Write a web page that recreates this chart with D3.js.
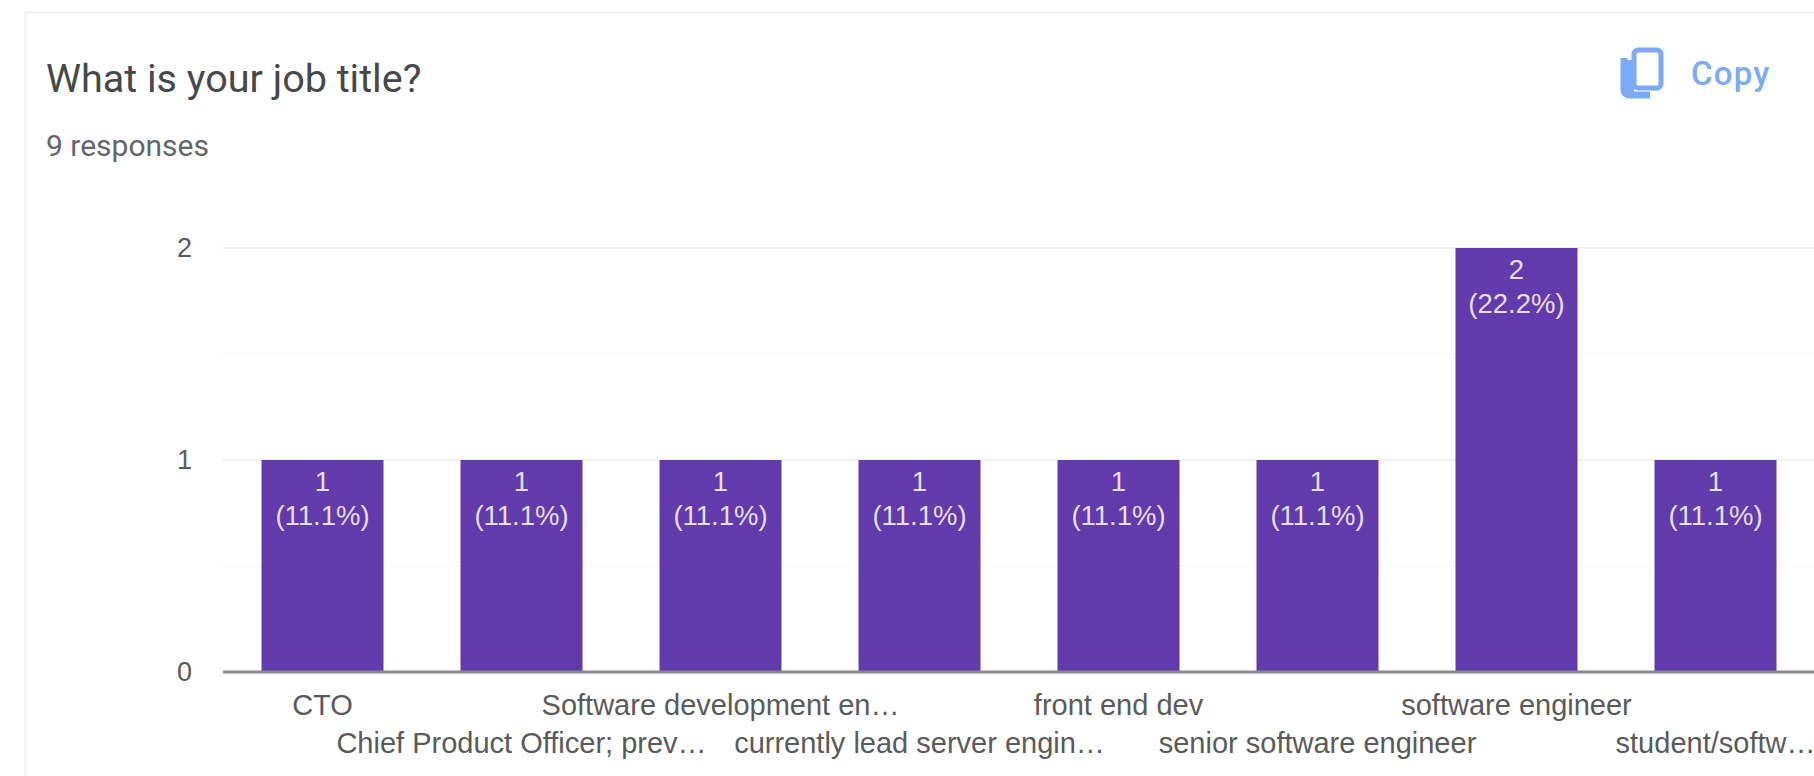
<!DOCTYPE html>
<html>
<head>
<meta charset="utf-8">
<script src="https://cdn.jsdelivr.net/npm/d3@7/dist/d3.min.js"></script>
<style>
html,body{margin:0;padding:0;background:#fff;overflow:hidden}
svg{display:block}
.domain{display:none}
</style>
</head>
<body>
<svg id="chart" width="1814" height="776"></svg>
<script>
// Survey answers: one bar per job title
const categories = ["CTO","Chief Product Officer; prev…","Software development en…","currently lead server engin…","front end dev","senior software engineer","software engineer","student/softw…"];
const counts = [1,1,1,1,1,1,2,1];
const percents = ["11.1%","11.1%","11.1%","11.1%","11.1%","11.1%","22.2%","11.1%"];
const yTicks = [0,1,2];
const yMinorTicks = [0.5,1.5];

const sans = "'Liberation Sans', Arial, sans-serif";
const svg = d3.select("#chart");

// Card outline, open at the right and bottom edges
svg.append("path").attr("d","M25.5,776V12.5H1814").attr("fill","none").attr("stroke","#f0f0f0").attr("stroke-width",2);

svg.append("text").attr("x",46).attr("y",92).attr("font-family","Roboto, sans-serif").attr("font-size",39.5).attr("fill","#45474a").text("What is your job title?");
svg.append("text").attr("x",46).attr("y",156).attr("font-family","Roboto, sans-serif").attr("font-size",30).attr("fill","#64666a").text("9 responses");

// Copy control
const copy = svg.append("g").attr("fill","none").attr("stroke","#7baaf7");
copy.append("path").attr("d","M1624,58V90a5,5 0 0 0 5,5H1650").attr("stroke-width",7);
copy.append("rect").attr("x",1634).attr("y",50).attr("width",27).attr("height",38).attr("rx",4).attr("stroke-width",5);
copy.append("rect").attr("x",1622).attr("y",60).attr("width",12).attr("height",34).attr("fill","#7baaf7").attr("stroke","none");
svg.append("text").attr("x",1691).attr("y",85).attr("font-family","Roboto, sans-serif").attr("font-weight",500).attr("font-size",33).attr("letter-spacing",1.2).attr("fill","#7baaf7").text("Copy");

const x = d3.scaleBand().domain(categories).range([223,1815]).paddingInner(0.387).paddingOuter(0.1935);
const y = d3.scaleLinear().domain([0,2]).range([672,248]);

// Gridlines
const grid = svg.append("g");
grid.selectAll("line.major").data(yTicks.slice(1)).join("line").attr("class","major")
  .attr("x1",223).attr("x2",1814).attr("y1",d=>y(d)).attr("y2",d=>y(d)).attr("stroke","#f2f2f2").attr("stroke-width",2);
grid.selectAll("line.minor").data(yMinorTicks).join("line").attr("class","minor")
  .attr("x1",223).attr("x2",1814).attr("y1",d=>y(d)).attr("y2",d=>y(d)).attr("stroke","#f9f9f9").attr("stroke-width",2);

// Value axis
const yAxis = svg.append("g").attr("transform","translate(223,0)")
  .call(d3.axisLeft(y).tickValues(yTicks).tickFormat(d3.format("d")).tickSize(0).tickPadding(31));
yAxis.selectAll("text").attr("font-family",sans).attr("font-size",27).attr("fill","#5a5a5a");

// Bars
const rows = categories.map((c,i)=>({c,v:counts[i],p:percents[i]}));
svg.selectAll("rect.bar").data(rows).join("rect").attr("class","bar")
  .attr("x",d=>x(d.c)).attr("width",x.bandwidth())
  .attr("y",d=>y(d.v)).attr("height",d=>y(0)-y(d.v)).attr("fill","#613aab");

// Baseline
svg.append("line").attr("x1",223).attr("x2",1814).attr("y1",y(0)).attr("y2",y(0)).attr("stroke","#8a8a8a").attr("stroke-width",3);

// Two-line labels inside each bar
const lab = svg.selectAll("g.lab").data(rows).join("g").attr("class","lab")
  .attr("transform",d=>`translate(${x(d.c)+x.bandwidth()/2},${y(d.v)})`)
  .attr("text-anchor","middle").attr("font-family",sans).attr("font-size",27.5).attr("fill","#e6dff3");
lab.append("text").attr("y",31).text(d=>d.v);
lab.append("text").attr("y",65).text(d=>`(${d.p})`);

// Category axis with labels staggered over two rows
const xAxis = svg.append("g").attr("transform",`translate(0,${y(0)})`)
  .call(d3.axisBottom(x).tickSize(0).tickPadding(0));
xAxis.selectAll("text").attr("font-family",sans).attr("font-size",29).attr("fill","#5a5a5a")
  .attr("dy",null).attr("y",(d,i)=>i%2?81:43);
</script>
</body>
</html>
